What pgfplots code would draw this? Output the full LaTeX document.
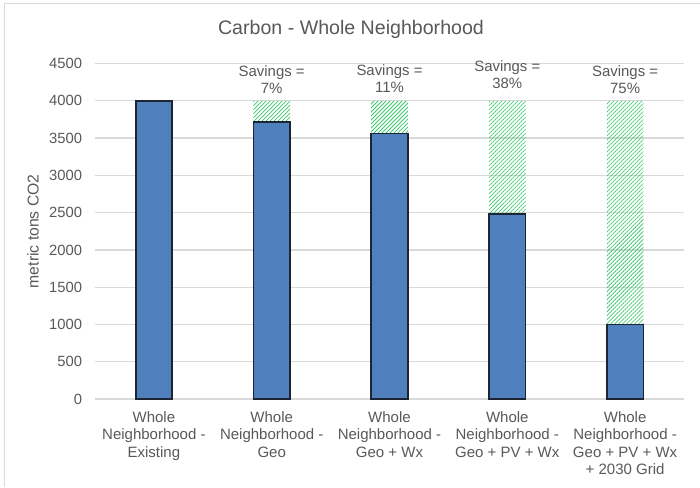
\documentclass[border=0pt]{standalone}
\usepackage{fontspec}
\setmainfont{Liberation Sans}
\usepackage{pgfplots}
\pgfplotsset{compat=1.18}
\usetikzlibrary{patterns.meta}

\definecolor{txtgray}{HTML}{595959}
\definecolor{gridgray}{HTML}{D9D9D9}
\definecolor{barblue}{HTML}{4F7FBC}
\definecolor{baredge}{HTML}{1C2533}
\definecolor{hatchgreen}{HTML}{3FC76F}

\tikzset{savelbl/.style={text=txtgray, align=center,
    font=\fontsize{11.2}{12.9}\selectfont}}

\begin{document}
\begin{tikzpicture}
% canvas: 700 x 487 px at 0.75pt per px, origin at top left
\useasboundingbox (0,0) rectangle (525pt,-365.25pt);
\fill[white] (0,0) rectangle (525pt,-365.25pt);
\draw[gridgray, line width=0.75pt] (3pt,-365.25pt) -- (3pt,-2.25pt) -- (525pt,-2.25pt);

\node[text=txtgray, font=\fontsize{14.7}{17}\selectfont] at (263.25pt,-21.75pt)
  {Carbon - Whole Neighborhood};

\begin{axis}[
  at={(71.25pt,-299.25pt)}, anchor=south west,
  scale only axis,
  width=441.75pt, height=251.6pt,
  ybar stacked,
  bar width=27.4pt,
  xmin=-0.5, xmax=4.5,
  ymin=0, ymax=4500,
  ytick={0,500,...,4500},
  xtick={0,1,2,3,4},
  xticklabels={
    {Whole\\Neighborhood -\\Existing},
    {Whole\\Neighborhood -\\Geo},
    {Whole\\Neighborhood -\\Geo + Wx},
    {Whole\\Neighborhood -\\Geo + PV + Wx},
    {Whole\\Neighborhood -\\Geo + PV + Wx\\+ 2030 Grid}},
  major tick length=0pt,
  axis line style={draw=none},
  ymajorgrids,
  grid style={gridgray, line width=0.9pt},
  /pgf/number format/assume math mode=true,
  /pgf/number format/1000 sep={},
  yticklabel style={text=txtgray, font=\fontsize{11.1}{13}\selectfont,
    anchor=east, inner sep=0pt, xshift=-9.5pt},
  xticklabel style={text=txtgray, font=\fontsize{11.25}{13.1}\selectfont,
    align=center, anchor=north, inner sep=0pt, yshift=-9pt},
  ylabel={metric tons CO2},
  ylabel style={text=txtgray, font=\fontsize{11.8}{14}\selectfont,
    at={(axis description cs:-0.1053,0.5)}, anchor=center},
  clip=false,
]
% remaining emissions
\addplot[fill=barblue, draw=baredge, line width=1.3pt]
  coordinates {(0,4000) (1,3720) (2,3560) (3,2480) (4,1000)};
% avoided emissions
\addplot[draw=none, pattern={Lines[angle=45, distance=2.12pt, line width=0.55pt]},
  pattern color=hatchgreen]
  coordinates {(0,0) (1,280) (2,440) (3,1520) (4,3000)};

\node[savelbl] at (axis cs:1,4285) {Savings =\\7\%};
\node[savelbl] at (axis cs:2,4300) {Savings =\\11\%};
\node[savelbl] at (axis cs:3,4346) {Savings =\\38\%};
\node[savelbl] at (axis cs:4,4285) {Savings =\\75\%};
\end{axis}
\end{tikzpicture}
\end{document}
